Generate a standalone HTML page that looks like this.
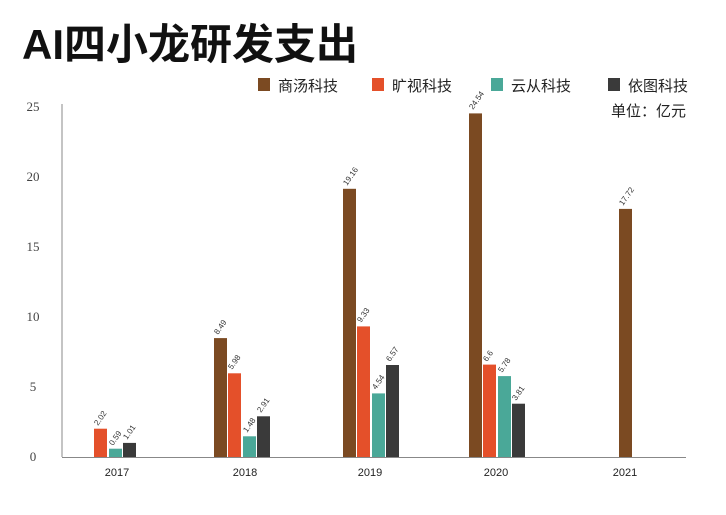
<!DOCTYPE html><html><head><meta charset="utf-8"><style>body{margin:0;background:#fff}svg{display:block}</style></head><body>
<svg width="726" height="515" xmlns="http://www.w3.org/2000/svg" font-family="Liberation Sans, Noto Sans CJK SC, sans-serif">
<rect width="726" height="515" fill="#fff"/>
<text x="22" y="59" font-size="42" font-weight="bold" fill="#111">AI四小龙研发支出</text>
<g font-size="15" fill="#222">
<rect x="258" y="78" width="12" height="13" fill="#7b4a22"/><text x="278" y="91">商汤科技</text>
<rect x="372" y="78" width="12" height="13" fill="#e4502a"/><text x="392" y="91">旷视科技</text>
<rect x="491" y="78" width="12" height="13" fill="#4aa898"/><text x="511" y="91">云从科技</text>
<rect x="608" y="78" width="12" height="13" fill="#3a3a3a"/><text x="628" y="91">依图科技</text>
<text x="686" y="116" text-anchor="end">单位：亿元</text>
</g>
<g font-family="Liberation Serif, serif" font-size="13" fill="#444" text-anchor="middle">
<text x="33" y="111">25</text><text x="33" y="181">20</text><text x="33" y="251">15</text><text x="33" y="321">10</text><text x="33" y="391">5</text><text x="33" y="461">0</text>
</g>
<line x1="62" y1="104" x2="62" y2="457" stroke="#888"/>
<line x1="62" y1="457.5" x2="686" y2="457.5" stroke="#888"/>
<g>
<rect x="94" y="428.7" width="13" height="28.3" fill="#e4502a"/>
<rect x="109" y="448.7" width="13" height="8.3" fill="#4aa898"/>
<rect x="123" y="442.9" width="13" height="14.1" fill="#3a3a3a"/>
<rect x="214" y="338.1" width="13" height="118.9" fill="#7b4a22"/>
<rect x="228" y="373.3" width="13" height="83.7" fill="#e4502a"/>
<rect x="243" y="436.3" width="13" height="20.7" fill="#4aa898"/>
<rect x="257" y="416.3" width="13" height="40.7" fill="#3a3a3a"/>
<rect x="343" y="188.8" width="13" height="268.2" fill="#7b4a22"/>
<rect x="357" y="326.4" width="13" height="130.6" fill="#e4502a"/>
<rect x="372" y="393.4" width="13" height="63.6" fill="#4aa898"/>
<rect x="386" y="365" width="13" height="92" fill="#3a3a3a"/>
<rect x="469" y="113.4" width="13" height="343.6" fill="#7b4a22"/>
<rect x="483" y="364.6" width="13" height="92.4" fill="#e4502a"/>
<rect x="498" y="376.1" width="13" height="80.9" fill="#4aa898"/>
<rect x="512" y="403.7" width="13" height="53.3" fill="#3a3a3a"/>
<rect x="619" y="208.9" width="13" height="248.1" fill="#7b4a22"/>
</g>
<g font-size="8" fill="#333">
<text transform="translate(98 426) rotate(-55)">2.02</text>
<text transform="translate(113 446) rotate(-55)">0.59</text>
<text transform="translate(127 440) rotate(-55)">1.01</text>
<text transform="translate(218 335) rotate(-55)">8.49</text>
<text transform="translate(232 370) rotate(-55)">5.98</text>
<text transform="translate(247 433) rotate(-55)">1.48</text>
<text transform="translate(261 413) rotate(-55)">2.91</text>
<text transform="translate(347 186) rotate(-55)">19.16</text>
<text transform="translate(361 323) rotate(-55)">9.33</text>
<text transform="translate(376 390) rotate(-55)">4.54</text>
<text transform="translate(390 362) rotate(-55)">6.57</text>
<text transform="translate(473 110) rotate(-55)">24.54</text>
<text transform="translate(487 362) rotate(-55)">6.6</text>
<text transform="translate(502 373) rotate(-55)">5.78</text>
<text transform="translate(516 401) rotate(-55)">3.81</text>
<text transform="translate(623 206) rotate(-55)">17.72</text>
</g>
<g font-size="11" fill="#222" text-anchor="middle">
<text x="117" y="476">2017</text><text x="245" y="476">2018</text><text x="370" y="476">2019</text><text x="496" y="476">2020</text><text x="625" y="476">2021</text>
</g>
</svg>
</body></html>
